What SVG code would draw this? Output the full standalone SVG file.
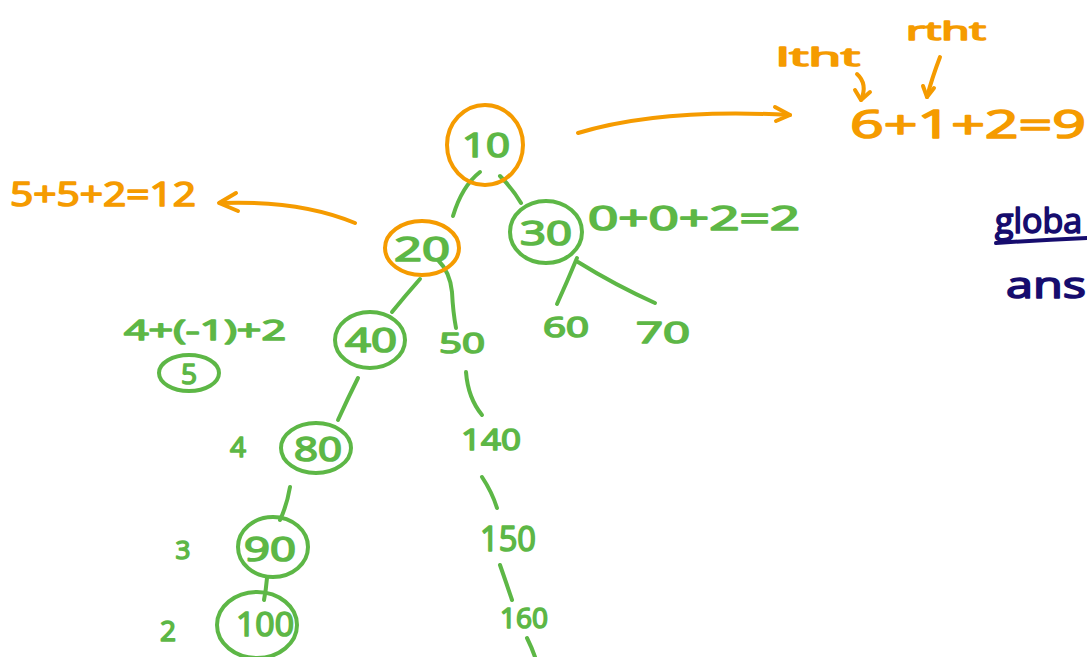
<svg xmlns="http://www.w3.org/2000/svg" width="1087" height="657" viewBox="0 0 1087 657">
<style>
.o{fill:none;stroke:#F59B00;stroke-width:4;stroke-linecap:round;stroke-linejoin:round}
.g{fill:none;stroke:#5DB746;stroke-width:4;stroke-linecap:round;stroke-linejoin:round}
.n{fill:none;stroke:#160C6E;stroke-width:4;stroke-linecap:round}
text{font-family:"Open Sans","DejaVu Sans",sans-serif;stroke-width:1.6;stroke-linejoin:round}
.tg{fill:#5DB746;stroke:#5DB746}
.to{fill:#F59B00;stroke:#F59B00}
.tn{fill:#160C6E;stroke:#160C6E}
</style>
<rect width="1087" height="657" fill="#fff"/>
<g id="connectors">
<path class="g" d="M453 216 Q462 186 480 172"/>
<path class="g" d="M500 176 Q512 188 521 203"/>
<path class="g" d="M420 279 Q405 296 392 312"/>
<path class="g" d="M438 260 Q450 272 452 292 Q453 312 456 328"/>
<path class="g" d="M577 258 Q567 282 557 304"/>
<path class="g" d="M578 262 Q615 285 655 303"/>
<path class="g" d="M358 378 Q348 398 338 420"/>
<path class="g" d="M466 372 Q468 398 482 415"/>
<path class="g" d="M290 487 Q287 505 280 520"/>
<path class="g" d="M482 477 Q492 492 497 508"/>
<path class="g" d="M267 578 Q266 590 264 600"/>
<path class="g" d="M500 565 Q507 585 512 600"/>
<path class="g" d="M527 638 Q532 648 535 657"/>
<path class="o" d="M578 133 Q660 108 790 115"/>
<path class="o" d="M775 107 L790 115 L776 121"/>
<path class="o" d="M355 223 Q300 200 220 203"/>
<path class="o" d="M236 193 L219 203 L238 211"/>
<path class="o" d="M857 74 Q868 84 861 100"/>
<path class="o" d="M855 90 L861 100 L870 92"/>
<path class="o" d="M940 57 Q932 78 927 97"/>
<path class="o" d="M923 86 L927 97 L934 88"/>
</g>
<g id="n10"><ellipse class="o" cx="485" cy="145" rx="38" ry="40"/><text class="tg" x="462" y="157" font-size="32" textLength="48" lengthAdjust="spacingAndGlyphs">10</text></g>
<g id="n20"><ellipse class="o" cx="422" cy="248" rx="37" ry="27"/><text class="tg" x="394" y="261" font-size="32" textLength="56" lengthAdjust="spacingAndGlyphs">20</text></g>
<g id="n30"><ellipse class="g" cx="546" cy="232" rx="36" ry="31"/><text class="tg" x="520" y="245" font-size="32" textLength="52" lengthAdjust="spacingAndGlyphs">30</text></g>
<g id="n40"><ellipse class="g" cx="370" cy="340" rx="35" ry="28"/><text class="tg" x="345" y="352" font-size="32" textLength="52" lengthAdjust="spacingAndGlyphs">40</text></g>
<g id="n50"><text class="tg" x="439" y="353" font-size="28" textLength="46" lengthAdjust="spacingAndGlyphs">50</text></g>
<g id="n60"><text class="tg" x="543" y="337" font-size="28" textLength="46" lengthAdjust="spacingAndGlyphs">60</text></g>
<g id="n70"><text class="tg" x="636" y="343" font-size="30" textLength="54" lengthAdjust="spacingAndGlyphs">70</text></g>
<g id="n80"><ellipse class="g" cx="316" cy="448" rx="35" ry="25"/><text class="tg" x="294" y="461" font-size="32" textLength="48" lengthAdjust="spacingAndGlyphs">80</text></g>
<g id="n90"><ellipse class="g" cx="273" cy="547" rx="35" ry="30"/><text class="tg" x="244" y="561" font-size="32" textLength="52" lengthAdjust="spacingAndGlyphs">90</text></g>
<g id="n100"><ellipse class="g" cx="257" cy="625" rx="40" ry="33"/><text class="tg" x="236" y="636" font-size="32" textLength="58" lengthAdjust="spacingAndGlyphs">100</text></g>
<g id="n140"><text class="tg" x="461" y="450" font-size="30" textLength="60" lengthAdjust="spacingAndGlyphs">140</text></g>
<g id="n150"><text class="tg" x="480" y="551" font-size="34" textLength="56" lengthAdjust="spacingAndGlyphs">150</text></g>
<g id="n160"><text class="tg" x="500" y="628" font-size="28" textLength="48" lengthAdjust="spacingAndGlyphs">160</text></g>
<g id="labels">
<text class="tg" x="588" y="230" font-size="32" textLength="212" lengthAdjust="spacingAndGlyphs">0+0+2=2</text>
<text class="tg" x="124" y="340" font-size="28" textLength="162" lengthAdjust="spacingAndGlyphs">4+(-1)+2</text>
<ellipse class="g" cx="189" cy="373" rx="30" ry="18"/>
<text class="tg" x="189" y="384" font-size="28" text-anchor="middle">5</text>
<text class="tg" x="238" y="457" font-size="28" text-anchor="middle">4</text>
<text class="tg" x="183" y="559" font-size="26" text-anchor="middle">3</text>
<text class="tg" x="168" y="641" font-size="28" text-anchor="middle">2</text>
<text class="to" x="10" y="206" font-size="32" textLength="186" lengthAdjust="spacingAndGlyphs">5+5+2=12</text>
<text class="to" x="850" y="138" font-size="38" textLength="236" lengthAdjust="spacingAndGlyphs">6+1+2=9</text>
<text class="to" x="776" y="66" font-size="26" textLength="84" lengthAdjust="spacingAndGlyphs">ltht</text>
<text class="to" x="906" y="40" font-size="26" textLength="80" lengthAdjust="spacingAndGlyphs">rtht</text>
<text class="tn" x="995" y="233" font-size="34">globa</text>
<path class="n" d="M996 243 Q1040 240 1087 238"/>
<text class="tn" x="1006" y="298" font-size="36" textLength="80" lengthAdjust="spacingAndGlyphs">ans</text>
</g>
</svg>
